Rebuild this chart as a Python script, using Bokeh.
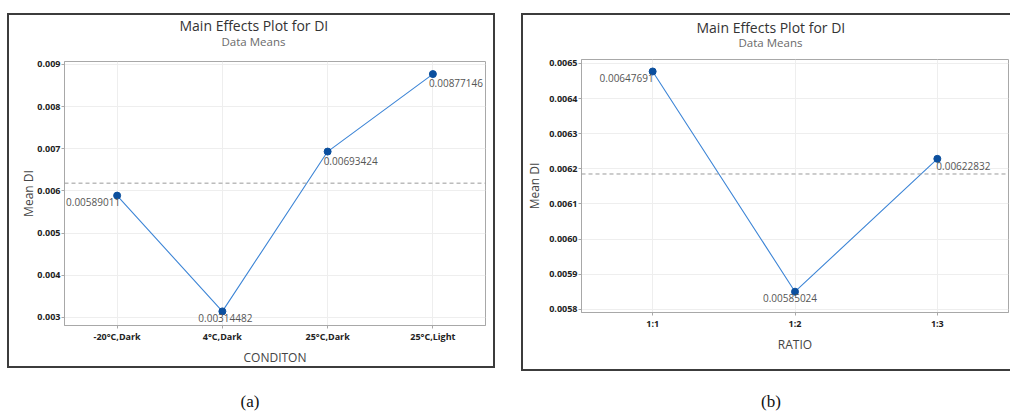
import numpy as np
from bokeh.plotting import figure
from bokeh.models import (ColumnDataSource, FactorRange, Range1d, FixedTicker,
                          NumeralTickFormatter, Span, LabelSet, Title, Div, Spacer)
from bokeh.layouts import row, column
from bokeh.embed import file_html
from bokeh.resources import INLINE
from bokeh.core.properties import value

# ---------------- data ----------------
conditions = ["-20°C,Dark", "4°C,Dark", "25°C,Dark", "25°C,Light"]
condition_means = [0.00589011, 0.00314482, 0.00693424, 0.00877146]
condition_yticks = [0.003, 0.004, 0.005, 0.006, 0.007, 0.008, 0.009]

ratios = ["1:1", "1:2", "1:3"]
ratio_means = [0.00647691, 0.00585024, 0.00622832]
ratio_yticks = [0.0058, 0.0059, 0.0060, 0.0061, 0.0062, 0.0063, 0.0064, 0.0065]

# ---------------- label styling (not data) ----------------
cond_label_align = ["right", "center", "left", "left"]
cond_label_dx = [3, 3, -4, -4]
cond_label_dy = [-2, -3, -5, -5]
ratio_label_align = ["right", "center", "left"]
ratio_label_dx = [1, -5, -1]
ratio_label_dy = [-3, -2, -3]

FONT = "Open Sans"
LINE_C = "#3d85d6"
DOT_C = "#0b4f9e"
BORDER_C = "#3c3c3c"


def build(cats, means, yticks, fmt, yr, width, height, borders,
          xlabel, aligns, dxs, dys, sub_standoff, title_standoff,
          ylab_standoff, shadow):
    p = figure(x_range=FactorRange(*cats), y_range=Range1d(*yr),
               width=width, height=height, output_backend="svg",
               toolbar_location=None, title=None,
               min_border_left=borders[0], min_border_right=borders[1],
               min_border_top=borders[2], min_border_bottom=borders[3],
               styles={"box-shadow": shadow})
    p.background_fill_color = "white"
    p.border_fill_color = None
    p.outline_line_color = "#a8a8a8"
    p.outline_line_width = 1

    # titles (subtitle first: nearest to frame)
    p.add_layout(Title(text="Data Means", align="left", offset=157,
                       text_font=FONT, text_font_size="11.5px",
                       text_font_style="normal", text_color="#6a6a6a",
                       standoff=sub_standoff), "above")
    p.add_layout(Title(text="Main Effects Plot for DI", align="left", offset=115,
                       text_font=FONT, text_font_size="14px",
                       text_font_style="normal", text_color="#333333",
                       standoff=title_standoff), "above")

    # axes
    for ax in (p.xaxis[0], p.yaxis[0]):
        ax.axis_line_color = "#a8a8a8"
        ax.major_tick_line_color = "#a8a8a8"
        ax.minor_tick_line_color = None
        ax.major_tick_in = 0
        ax.major_tick_out = 3
        ax.major_label_text_font = FONT
        ax.major_label_text_font_size = "9px"
        ax.major_label_text_font_style = "bold"
        ax.major_label_text_color = "#222222"
        ax.axis_label_text_font = FONT
        ax.axis_label_text_font_size = "12px"
        ax.axis_label_text_font_style = "normal"
        ax.axis_label_text_color = "#444444"

    p.yaxis.ticker = FixedTicker(ticks=yticks)
    p.yaxis.formatter = NumeralTickFormatter(format=fmt)
    p.yaxis.major_label_standoff = 1
    p.yaxis.axis_label = "Mean DI"
    p.yaxis.axis_label_standoff = ylab_standoff
    p.xaxis.axis_label = xlabel
    p.xaxis.major_label_standoff = 1
    p.xaxis.axis_label_standoff = 3

    p.xgrid.grid_line_color = "#eeeeee"
    p.ygrid.grid_line_color = "#eeeeee"
    p.ygrid.ticker = FixedTicker(ticks=yticks)

    # grand mean reference line
    p.add_layout(Span(location=float(np.mean(means)), dimension="width",
                      line_color="#9a9a9a", line_dash="4 3", line_width=1))

    src = ColumnDataSource(dict(
        x=list(cats), y=list(means),
        txt=["%.8f" % v for v in means],
        align=aligns, dx=dxs, dy=dys))
    p.line("x", "y", source=src, line_color=LINE_C, line_width=1.1)
    p.scatter("x", "y", source=src, size=7, fill_color=DOT_C, line_color=DOT_C)
    p.add_layout(LabelSet(x="x", y="y", text="txt", source=src,
                          text_align="align", text_baseline="top",
                          x_offset="dx", y_offset="dy",
                          text_font=value(FONT), text_font_size="10px",
                          text_color="#555555"))
    return p


pA = build(conditions, condition_means, condition_yticks, "0.000",
           (0.00281, 0.00907), 488, 355, (57, 10, 48, 42), "CONDITON",
           cond_label_align, cond_label_dx, cond_label_dy, 25, -30, -3,
           "inset 0 0 0 2px " + BORDER_C)

pB = build(ratios, ratio_means, ratio_yticks, "0.0000",
           (0.005791, 0.006511), 489, 358, (60, 2, 46, 59), "RATIO",
           ratio_label_align, ratio_label_dx, ratio_label_dy, 20, -29, 3,
           "inset 2px 2px 0 0 %s, inset 0 -2px 0 0 %s" % (BORDER_C, BORDER_C))

cap_style = {"font-family": "Liberation Serif", "font-size": "17px",
             "line-height": "62px", "overflow": "hidden", "color": "#111111",
             "text-align": "center"}
capA = Div(text="(a)", width=500, height=43, margin=0, styles=cap_style)
capB = Div(text="(b)", width=100, height=43, margin=0, styles=cap_style)

layout = column(Spacer(height=13),
                row(Spacer(width=7), column(pA), Spacer(width=26), column(pB)),
                row(capA, Spacer(width=221), capB))

open("out.html", "w").write(file_html(layout, INLINE))
